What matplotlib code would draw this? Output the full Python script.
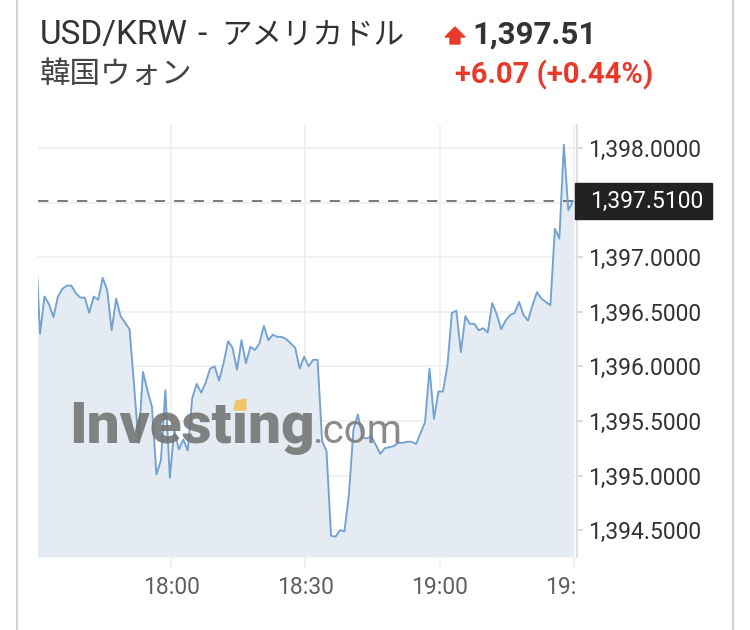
import matplotlib
matplotlib.use("Agg")
import matplotlib.pyplot as plt
import matplotlib.transforms as mtransforms
from matplotlib.patches import Polygon, Rectangle
from matplotlib.lines import Line2D
import numpy as np

# USD/KRW, one quote per minute; first quote sits just left of the visible window
first_quote = -0.26          # minutes after 17:30
prices = [
    1397.14,
    1396.30, 1396.64, 1396.57, 1396.45, 1396.64, 1396.71, 1396.74, 1396.74, 1396.67, 1396.63,
    1396.63, 1396.49, 1396.64, 1396.61, 1396.81, 1396.70, 1396.33, 1396.62, 1396.46, 1396.40,
    1396.34, 1395.83, 1395.30, 1395.95, 1395.78, 1395.63, 1395.01, 1395.14, 1395.78, 1394.98,
    1395.42, 1395.24, 1395.33, 1395.23, 1395.71, 1395.84, 1395.76, 1395.85, 1395.98, 1396.00,
    1395.87, 1396.03, 1396.23, 1396.17, 1395.97, 1396.24, 1396.03, 1396.18, 1396.15, 1396.21,
    1396.37, 1396.24, 1396.29, 1396.27, 1396.27, 1396.25, 1396.21, 1396.17, 1395.98, 1396.09,
    1396.00, 1396.06, 1396.06, 1395.32, 1395.22, 1394.45, 1394.44, 1394.50, 1394.49, 1394.83,
    1395.42, 1395.56, 1395.35, 1395.34, 1395.36, 1395.28, 1395.20, 1395.25, 1395.26, 1395.27,
    1395.30, 1395.30, 1395.31, 1395.31, 1395.29, 1395.39, 1395.49, 1395.98, 1395.52, 1395.77,
    1395.77, 1396.01, 1396.49, 1396.51, 1396.13, 1396.46, 1396.39, 1396.39, 1396.33, 1396.35,
    1396.31, 1396.58, 1396.48, 1396.34, 1396.42, 1396.47, 1396.49, 1396.59, 1396.47, 1396.42,
    1396.56, 1396.68, 1396.62, 1396.59, 1396.56, 1397.26, 1397.17, 1398.03, 1397.43, 1397.51,
]
tick_minutes = [30, 60, 90, 120]
tick_labels = ["18:00", "18:30", "19:00", "19:30"]
price_ticks = [1394.5, 1395.0, 1395.5, 1396.0, 1396.5, 1397.0, 1397.5, 1398.0]

pair_code = "USD/KRW"
pair_jp = "アメリカドル"
sub_name = "韓国ウォン"
last_price = 1397.51
change = 6.07
change_pct = 0.44

W, H = 750, 630
def fx(x):
    return x / W
def fy(y):
    return 1 - y / H

LINE = "#72a2d1"
FILL = "#e4ebf2"
GRID = "#eeeeee"
RED = "#e8392b"
FONT = ["Roboto", "Noto Sans CJK JP", "DejaVu Sans"]
plt.rcParams["font.family"] = FONT
plt.rcParams["lines.scale_dashes"] = False

fig = plt.figure(figsize=(7.5, 6.3), dpi=100)
ax = fig.add_axes([fx(38), fy(557), fx(577) - fx(38), fy(125) - fy(557)])

t = first_quote + np.arange(len(prices))
y0, y1 = 1394.255, 1398.21
ax.fill_between(t, prices, y0, color=FILL, lw=0, zorder=1)
ax.plot(t, prices, color=LINE, lw=1.35, zorder=4)
ax.axhline(last_price, color="#555555", lw=1.1, dashes=(7.5, 6.5), zorder=3)
ax.set_xlim(0.29, 120.68)
ax.set_ylim(y0, y1)

ax.set_xticks(tick_minutes)
ax.set_xticklabels(tick_labels)
ax.set_yticks(price_ticks)
# the 1397.5 label sits under the current-price box, so it is left blank
ax.set_yticklabels(["" if p == 1397.5 else f"{p:,.4f}" for p in price_ticks])
ax.yaxis.tick_right()
ax.grid(True, color=GRID, lw=1.1, zorder=0)
ax.set_axisbelow(True)
for s in ["top", "left", "bottom"]:
    ax.spines[s].set_visible(False)
ax.spines["right"].set_color("#d9d9d9")
ax.spines["right"].set_linewidth(1.2)
ax.tick_params(axis="x", length=8, width=1.1, color=GRID, pad=6,
               labelsize=16.5, labelcolor="#5f5f5f")
ax.tick_params(axis="y", length=4.5, width=1.1, color="#d0d0d0", pad=3.5,
               labelsize=16.5, labelcolor="#333333")

# last tick label is cut by the price scale column
clip = mtransforms.TransformedBbox(mtransforms.Bbox([[0, 0], [fx(576), 1]]), fig.transFigure)
for lbl in ax.get_xticklabels():
    lbl.set_clip_box(clip)
    lbl.set_clip_on(True)

# current price box on the scale
blend = mtransforms.blended_transform_factory(fig.transFigure, ax.transData)
ax.add_patch(Rectangle((fx(575), last_price - 0.165), fx(712) - fx(575), 0.33,
                       transform=blend, color="#222222", clip_on=False, zorder=10))
ax.text(fx(590), last_price, f"{last_price:,.4f}", transform=blend, color="white",
        fontsize=16.5, va="center", ha="left", zorder=11, clip_on=False)

# watermark, with the yellow dot over the last "i"
wm_kw = dict(fontsize=42, fontweight=900, color="#727272", alpha=0.88, zorder=2)
wm = fig.text(fx(69), fy(443), "Investıng", **wm_kw)
fig.text(fx(312), fy(443), ".com", fontsize=29, color="#7d7d7d", alpha=0.9, zorder=2)
renderer = fig.canvas.get_renderer()
probe = fig.text(0, 0, "Invest", **wm_kw)
left_w = probe.get_window_extent(renderer).width
probe.set_text("ı")
i_w = probe.get_window_extent(renderer).width
probe.remove()
x0 = wm.get_window_extent(renderer).x0 + left_w
cx = x0 + i_w / 2
fig.patches.append(Polygon([[fx(cx - 6), fy(410)], [fx(cx + 6), fy(410)], [fx(cx + 6), fy(399)],
                            [fx(cx - 4), fy(401)]], closed=True, transform=fig.transFigure,
                           color="#f0c768", zorder=3))

# header
fig.text(fx(40), fy(44), pair_code, fontsize=24, color="#333333")
fig.text(fx(197), fy(44), "-", fontsize=24, color="#333333")
fig.text(fx(221), fy(44), pair_jp, fontsize=22, color="#333333")
fig.text(fx(40), fy(83), sub_name, fontsize=22, color="#444444")
fig.text(fx(597), fy(44), f"{last_price:,.2f}", fontsize=22.5, fontweight="bold",
         color="#333333", ha="right")
fig.text(fx(653), fy(83), f"+{change:.2f} (+{change_pct:.2f}%)", fontsize=21,
         fontweight="bold", color=RED, ha="right")
arrow = [[445, 37], [455, 27], [465, 37], [460, 37], [460, 44], [450, 44], [450, 37]]
fig.patches.append(Polygon([[fx(a), fy(b)] for a, b in arrow], closed=True,
                           transform=fig.transFigure, color=RED))

# card borders
for xb in (17, 733):
    fig.add_artist(Line2D([fx(xb), fx(xb)], [0, 1], color="#d4d4d4", lw=1.6))

fig.savefig("out.png", dpi=100, facecolor="white")
